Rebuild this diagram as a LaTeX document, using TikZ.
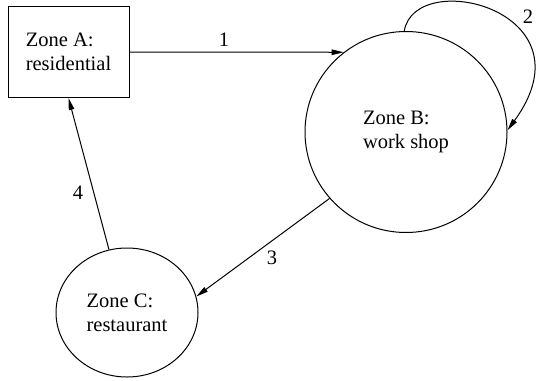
\documentclass[tikz,border=0pt]{standalone}
\usepackage{fontspec}
\setmainfont{Liberation Serif}
\usetikzlibrary{arrows.meta,shapes.geometric}
\begin{document}
\begin{tikzpicture}[x=1pt,y=-1pt,
  every node/.style={font=\rmfamily\fontsize{20.5}{24}\selectfont, inner sep=0pt},
  zone/.style={draw, line width=1pt, align=left},
  link/.style={draw, line width=1pt, -{Triangle[length=12pt,width=5.5pt]}},
  lbl/.style={font=\rmfamily\fontsize{20.5}{24}\selectfont}]
\useasboundingbox (0,0) rectangle (537,380);
\node[zone, rectangle, minimum width=121pt, minimum height=91pt] (A) at (68.5,52) {Zone A:\\residential};
\node[zone, ellipse, minimum width=202pt, minimum height=201pt] (B) at (406,132) {Zone B:\\work shop};
\node[zone, ellipse, minimum width=142pt, minimum height=129pt] (C) at (127,312.5) {Zone C:\\restaurant};
\draw[link] (A.east) -- (B.128);
\draw[link] (B.91) .. controls (415,-33) and (595,10) .. (B.1);
\draw[link] (B.221) -- (C.13);
\draw[link] (C.106) -- (A.south);
\node[lbl] (l1) at (224,40) {1};
\node[lbl] (l2) at (528,17) {2};
\node[lbl] (l3) at (272,258) {3};
\node[lbl] (l4) at (78,193) {4};
\end{tikzpicture}
\end{document}
